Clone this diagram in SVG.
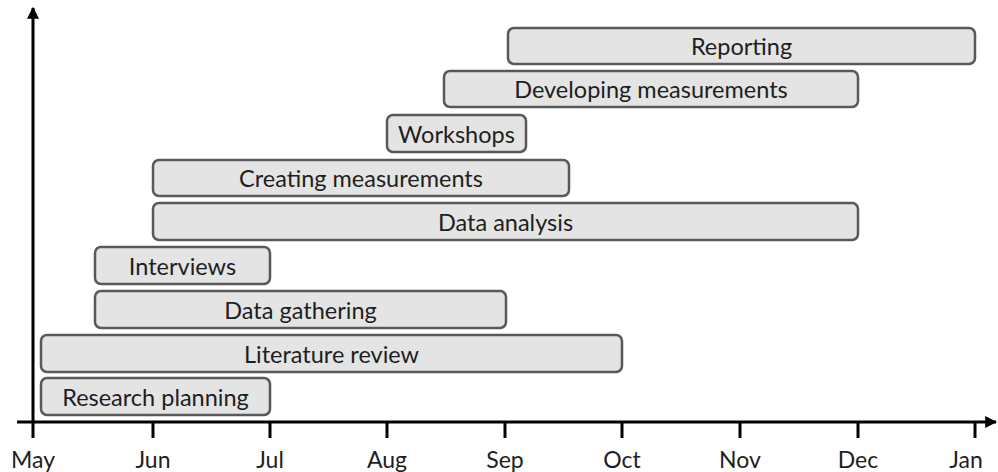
<svg xmlns="http://www.w3.org/2000/svg" width="998" height="472" viewBox="0 0 998 472">
  <style>
    .bar { fill: #e4e4e4; stroke: #595959; stroke-width: 2.5; }
    .lbl { font-family: Lato, "Open Sans", "Liberation Sans", sans-serif; font-size: 23.5px; fill: #1e1e1e; text-anchor: middle; dominant-baseline: central; }
    .mon { font-family: Lato, "Open Sans", "Liberation Sans", sans-serif; font-size: 23px; fill: #1e1e1e; text-anchor: middle; }
    .axis { stroke: #000; stroke-width: 3; fill: none; }
    .tick { stroke: #000; stroke-width: 3; }
  </style>
  <defs>
    <marker id="arrow" viewBox="0 0 10 10" refX="9" refY="5" markerWidth="4" markerHeight="4" orient="auto" markerUnits="strokeWidth">
      <path d="M0,0 L10,5 L0,10 z" fill="#000"/>
    </marker>
  </defs>
  <rect width="998" height="472" fill="#fff"/>

  <!-- axes and month ticks -->
  <g id="connectors">
    <line class="axis" x1="33" y1="438" x2="33" y2="8" marker-end="url(#arrow)"/>
    <line class="axis" x1="17" y1="422" x2="996" y2="422" marker-end="url(#arrow)"/>
    <line class="tick" x1="153" y1="422" x2="153" y2="438"/>
    <line class="tick" x1="270" y1="422" x2="270" y2="438"/>
    <line class="tick" x1="387" y1="422" x2="387" y2="438"/>
    <line class="tick" x1="505" y1="422" x2="505" y2="438"/>
    <line class="tick" x1="622" y1="422" x2="622" y2="438"/>
    <line class="tick" x1="740" y1="422" x2="740" y2="438"/>
    <line class="tick" x1="858" y1="422" x2="858" y2="438"/>
    <line class="tick" x1="975" y1="422" x2="975" y2="438"/>
  </g>

  <g id="months">
    <text class="mon" x="33" y="468">May</text>
    <text class="mon" x="153" y="468">Jun</text>
    <text class="mon" x="270" y="468">Jul</text>
    <text class="mon" x="387" y="468">Aug</text>
    <text class="mon" x="505" y="468">Sep</text>
    <text class="mon" x="622" y="468">Oct</text>
    <text class="mon" x="740" y="468">Nov</text>
    <text class="mon" x="858" y="468">Dec</text>
    <text class="mon" x="966" y="468">Jan</text>
  </g>

  <!-- task bars -->
  <g id="reporting">
    <rect class="bar" x="508" y="28" width="467" height="36" rx="6"/>
    <text class="lbl" x="741.5" y="46">Reporting</text>
  </g>
  <g id="developing-measurements">
    <rect class="bar" x="444" y="71" width="414" height="36" rx="6"/>
    <text class="lbl" x="651" y="89">Developing measurements</text>
  </g>
  <g id="workshops">
    <rect class="bar" x="387" y="115" width="139" height="37" rx="6"/>
    <text class="lbl" x="456.5" y="133.5">Workshops</text>
  </g>
  <g id="creating-measurements">
    <rect class="bar" x="153" y="160" width="416" height="36" rx="6"/>
    <text class="lbl" x="361" y="178">Creating measurements</text>
  </g>
  <g id="data-analysis">
    <rect class="bar" x="153" y="203" width="705" height="37" rx="6"/>
    <text class="lbl" x="505.5" y="221.5">Data analysis</text>
  </g>
  <g id="interviews">
    <rect class="bar" x="95" y="247" width="175" height="37" rx="6"/>
    <text class="lbl" x="182.5" y="265.5">Interviews</text>
  </g>
  <g id="data-gathering">
    <rect class="bar" x="95" y="291" width="411" height="37" rx="6"/>
    <text class="lbl" x="300.5" y="309.5">Data gathering</text>
  </g>
  <g id="literature-review">
    <rect class="bar" x="41" y="335" width="581" height="37" rx="6"/>
    <text class="lbl" x="331.5" y="353.5">Literature review</text>
  </g>
  <g id="research-planning">
    <rect class="bar" x="41" y="378" width="229" height="37" rx="6"/>
    <text class="lbl" x="155.5" y="396.5">Research planning</text>
  </g>
</svg>
